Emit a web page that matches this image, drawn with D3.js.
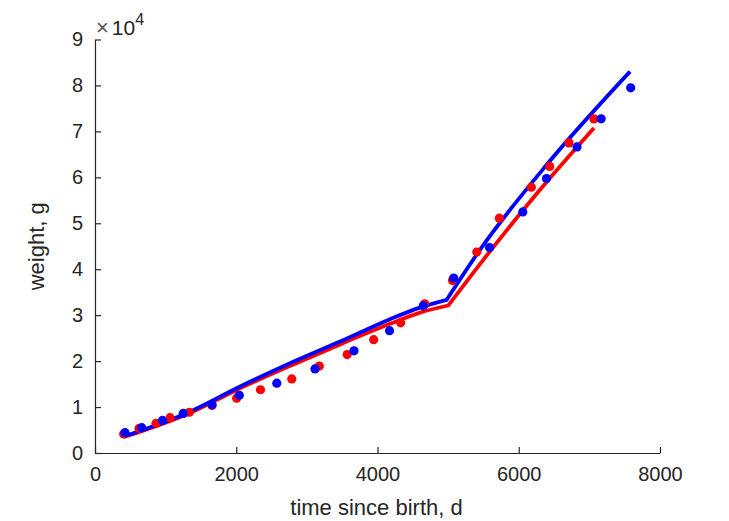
<!DOCTYPE html>
<html>
<head>
<meta charset="utf-8">
<script src="https://cdn.jsdelivr.net/npm/d3@7"></script>
<style>
  html, body { margin: 0; padding: 0; background: #fff; }
  svg { display: block; }
  text { font-family: "Liberation Sans", Arial, Helvetica, sans-serif; fill: #262626; }
</style>
</head>
<body>
<svg id="chart" width="729" height="521"></svg>
<script>
// ---- data (time since birth in d, weight in g) ----
const redDataT = [406, 623, 864, 1062, 1335, 1657, 2006, 2343, 2786, 3176, 3571, 3946, 4328, 4668, 5062, 5406, 5725, 6178, 6438, 6711, 7065];
const redDataW = [4140, 5340, 6470, 7690, 8870, 10350, 11940, 13770, 16120, 18910, 21420, 24670, 28330, 32470, 37520, 43750, 51120, 57850, 62380, 67500, 72710];

const blueDataT = [425, 661, 956, 1250, 1657, 2043, 2574, 3115, 3667, 4170, 4649, 5079, 5586, 6057, 6393, 6825, 7167, 7585];
const blueDataW = [4420, 5510, 7080, 8610, 10500, 12570, 15190, 18300, 22230, 26630, 32030, 38090, 44730, 52470, 59750, 66610, 72730, 79490];

// model curves: before and after the kink (shared kink point)
const redFitT1 = [411, 1345, 2006, 2761, 3469, 4177, 4600, 5002];
const redFitW1 = [3490, 8720, 13730, 18960, 23640, 28110, 30550, 32100];
const redFitT2 = [5002, 5498, 6301, 7065];
const redFitW2 = [32100, 42050, 57310, 70750];

const blueFitT1 = [425, 1345, 2006, 2761, 3469, 4177, 4600, 4980];
const blueFitW1 = [3700, 9000, 14100, 19550, 24250, 29130, 31650, 33340];
const blueFitT2 = [4980, 5451, 6396, 7575];
const blueFitW2 = [33340, 44230, 62750, 83020];

const xTicks = [0, 2000, 4000, 6000, 8000];
const yTicks = [0, 10000, 20000, 30000, 40000, 50000, 60000, 70000, 80000, 90000];
const xLabel = "time since birth, d";
const yLabel = "weight, g";

// ---- drawing ----
const svg = d3.select("#chart");
const axisColor = "#262626";
const x = d3.scaleLinear().domain([0, 8000]).range([95, 660]);
const y = d3.scaleLinear().domain([0, 90000]).range([453, 39.5]);

// axes
const xAxis = d3.axisBottom(x).tickValues(xTicks).tickSizeInner(-6).tickSizeOuter(0).tickPadding(14).tickFormat(d3.format("d"));
const yAxis = d3.axisLeft(y).tickValues(yTicks).tickSizeInner(-6).tickSizeOuter(0).tickPadding(12).tickFormat(d => d / 10000);

const gx = svg.append("g").attr("transform", `translate(0,${y(0)})`).call(xAxis);
const gy = svg.append("g").attr("transform", `translate(${x(0)},0)`).call(yAxis);
[gx, gy].forEach(g => {
  g.select(".domain").attr("stroke", axisColor).attr("stroke-width", 1.2);
  g.selectAll(".tick line").attr("stroke", axisColor).attr("stroke-width", 1.2);
  g.selectAll(".tick text").attr("font-size", 20).attr("fill", axisColor)
    .style("font-family", '"Liberation Sans", Arial, sans-serif');
});
gx.selectAll(".tick text").attr("dy", "0.71em");

// exponent label
const ex = svg.append("text").attr("x", 96).attr("y", 35).attr("font-size", 21);
ex.append("tspan").text("\u00d7").attr("font-size", 22).attr("fill", "#555");
ex.append("tspan").text("10").attr("dx", 3);
ex.append("tspan").text("4").attr("font-size", 16).attr("dy", -10);

// axis labels
svg.append("text").attr("x", x(4000) - 1).attr("y", 515).attr("text-anchor", "middle")
  .attr("font-size", 22).text(xLabel);
svg.append("text").attr("transform", `translate(44,${(y(0) + y(90000)) / 2}) rotate(-90)`)
  .attr("text-anchor", "middle").attr("font-size", 22).text(yLabel);

// lines
const seg = (ts, ws) => ts.map((t, i) => [t, ws[i]]);
const line = d3.line().x(d => x(d[0])).y(d => y(d[1])).curve(d3.curveMonotoneX);
function fitPath(p1, p2) {
  const a = line(p1);
  const full2 = line(p2);
  const start = full2.match(/^M([^A-Za-z]*)/)[1];
  const b = full2.replace(/^M[^A-Za-z]*/, "");
  return a + "L" + start + b;
}
svg.append("path").attr("d", fitPath(seg(redFitT1, redFitW1), seg(redFitT2, redFitW2)))
  .attr("fill", "none").attr("stroke", "#ff0000").attr("stroke-width", 3.8).attr("stroke-linejoin", "miter");
svg.append("path").attr("d", fitPath(seg(blueFitT1, blueFitW1), seg(blueFitT2, blueFitW2)))
  .attr("fill", "none").attr("stroke", "#0000ff").attr("stroke-width", 3.8).attr("stroke-linejoin", "miter");

// points
svg.append("g").selectAll("circle").data(seg(redDataT, redDataW)).join("circle")
  .attr("cx", d => x(d[0])).attr("cy", d => y(d[1])).attr("r", 4.6).attr("fill", "#ff0000");
svg.append("g").selectAll("circle").data(seg(blueDataT, blueDataW)).join("circle")
  .attr("cx", d => x(d[0])).attr("cy", d => y(d[1])).attr("r", 4.6).attr("fill", "#0000ff");
</script>
</body>
</html>
